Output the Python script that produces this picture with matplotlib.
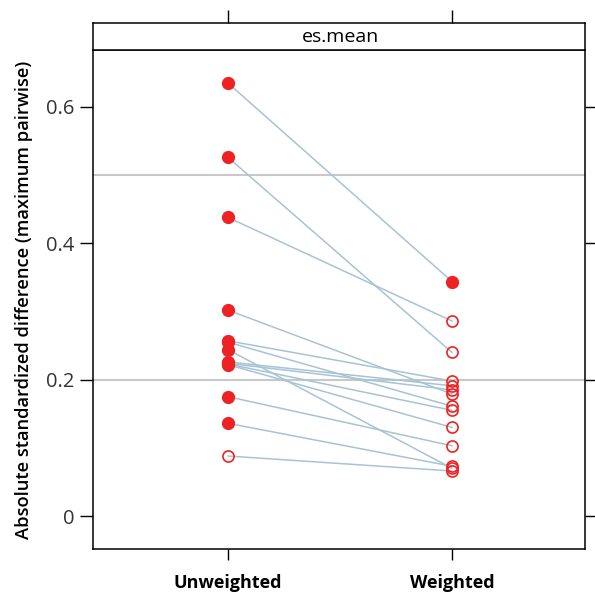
import matplotlib
matplotlib.use("Agg")
import matplotlib.pyplot as plt

# twang-style balance plot: max pairwise std. difference, before / after weighting
categories = ["Unweighted", "Weighted"]
unweighted = [0.635, 0.526, 0.438, 0.302, 0.257, 0.255, 0.244, 0.226, 0.224, 0.223, 0.222, 0.175, 0.136, 0.088]
weighted = [0.344, 0.240, 0.286, 0.179, 0.198, 0.161, 0.070, 0.191, 0.185, 0.155, 0.130, 0.103, 0.073, 0.066]
unw_signif = [True, True, True, True, True, True, True, True, True, True, True, True, True, False]
w_signif = [True] + [False] * 13
ref_lines = [0.2, 0.5]
yticks = [0, 0.2, 0.4, 0.6]
strip_label = "es.mean"
ylabel = "Absolute standardized difference (maximum pairwise)"

plt.rcParams["font.family"] = ["Open Sans", "DejaVu Sans"]

W, H = 595, 596
fig = plt.figure(figsize=(W / 100, H / 100), dpi=100)
ax = fig.add_axes([93 / W, (H - 549) / H, 492 / W, 499 / H])
strip = fig.add_axes([93 / W, (H - 50) / H, 492 / W, 27 / H])

line_col = "#a6c4d4"
red = "#ee2222"

for yv in ref_lines:
    ax.axhline(yv, color="#c8c8c8", lw=1.5, zorder=0)

xs = [1, 2]
for u, w in zip(unweighted, weighted):
    ax.plot(xs, [u, w], color=line_col, lw=1.1, zorder=1)

for xpos, vals, sig in [(1, unweighted, unw_signif), (2, weighted, w_signif)]:
    for v, s in zip(vals, sig):
        if s:
            ax.plot(xpos, v, "o", ms=8.5, mfc=red, mec=red, mew=1.0, zorder=3)
        else:
            ax.plot(xpos, v, "o", ms=8.0, mfc="none", mec=red, mew=1.2, zorder=3)

ax.set_xlim(0.397, 2.594)
ax.set_ylim(-0.0484, 0.6836)
ax.set_yticks(yticks)
ax.set_yticklabels(["0", "0.2", "0.4", "0.6"], fontsize=14.5, color="#333333")
ax.set_xticks(xs)
ax.set_xticklabels(categories, fontsize=13, fontweight="bold")
ax.tick_params(axis="y", direction="out", length=9.5, width=1, pad=4,
               right=True, labelright=False)
ax.tick_params(axis="x", direction="out", length=8, width=1, pad=10, top=False)
for sp in ax.spines.values():
    sp.set_linewidth(1.1)
ax.set_ylabel(ylabel, fontsize=13.2, fontweight="semibold", labelpad=9)

strip.set_xlim(0.397, 2.594)
strip.set_ylim(0, 1)
strip.set_yticks([])
strip.set_xticks(xs)
strip.tick_params(axis="x", direction="out", length=9.5, width=1, top=True,
                  bottom=False, labelbottom=False, labeltop=False)
for sp in strip.spines.values():
    sp.set_linewidth(1.1)
strip.text(1.5, 0.5, strip_label, ha="center", va="center", fontsize=14)

fig.savefig("out.png", dpi=100)
